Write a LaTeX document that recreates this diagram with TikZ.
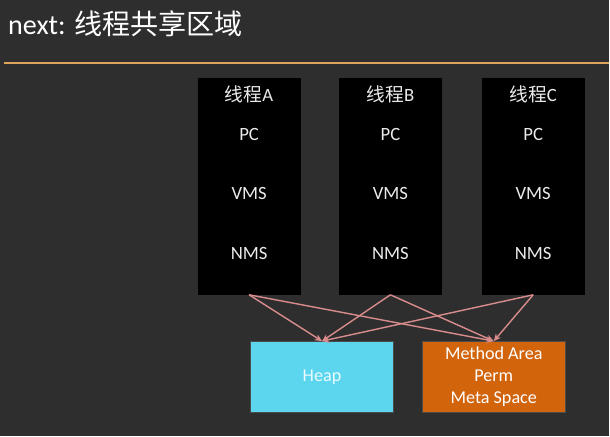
\documentclass[tikz,border=0pt]{standalone}
\usepackage{fontspec}
\setmainfont{Carlito}
\newfontfamily\cjk{Noto Sans CJK SC}
\usetikzlibrary{arrows.meta, positioning}

\definecolor{board}{HTML}{2E2E2E}
\definecolor{chalkline}{HTML}{DDA55C}
\definecolor{heapblue}{HTML}{5CD6EF}
\definecolor{permorange}{HTML}{D2640C}
\definecolor{linkpink}{HTML}{D98C8C}

\begin{document}
\begin{tikzpicture}[x=0.03cm, y=-0.03cm,
  thread/.style={draw=none, fill=black, minimum width=3.09cm, minimum height=6.51cm},
  item/.style={text=white!92!black, font=\fontsize{16}{19}\selectfont},
  area/.style={draw=black!70, line width=0.6pt, minimum width=4.29cm,
               minimum height=2.13cm, align=center,
               font=\fontsize{15.5}{19}\selectfont},
  link/.style={-{Stealth[length=2.2mm, width=2mm]}, linkpink, line width=1.2pt}
]
% chalkboard and its title rule
\fill[board] (0,0) rectangle (610,437);
\node[anchor=base west, text=white, inner sep=0pt,
      font=\fontsize{24}{28}\selectfont] (title) at (8,35)
     {next: {\cjk 线程共享区域}};
\draw[chalkline, line width=1.6pt] (4,63) -- (610,63);

% one black column per thread
\foreach \n/\x in {A/249.5, B/391, C/534} {
  \node[thread] (th\n) at (\x,186.5) {};
  \node[item] (name\n) at (\x,94) {{\cjk 线程}\n};
  \node[item] (pc\n) at (\x,135) {PC};
  \node[item] (vms\n) at (\x,194) {VMS};
  \node[item] (nms\n) at (\x,254) {NMS};
}

% shared areas
\node[area, fill=heapblue, text=white!88!heapblue] (heap) at (322.5,377.5) {Heap};
\node[area, fill=permorange, text=white] (meta) at (494.5,377.5)
     {Method Area\\Perm\\Meta Space};

\foreach \n in {A, B, C} {
  \draw[link] (th\n.south) -- (heap.north);
  \draw[link] (th\n.south) -- (meta.north);
}
\end{tikzpicture}
\end{document}
